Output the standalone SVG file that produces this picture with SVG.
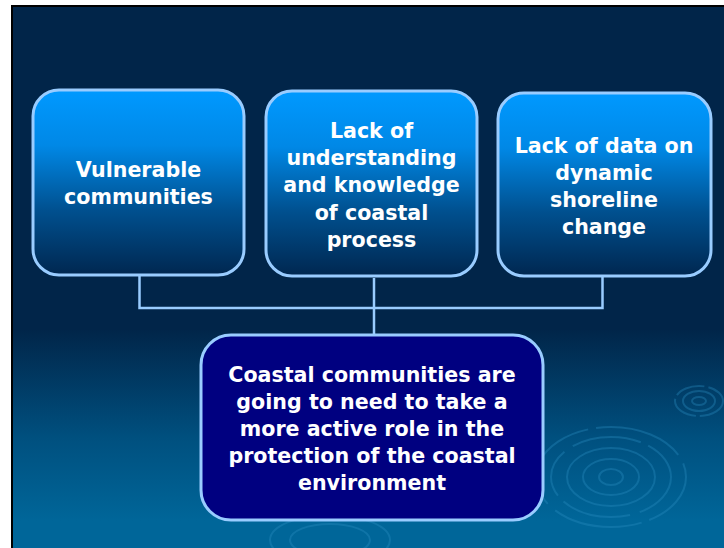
<svg xmlns="http://www.w3.org/2000/svg" width="724" height="548" viewBox="0 0 724 548">
  <defs>
    <linearGradient id="bg" x1="0" y1="0" x2="0" y2="548" gradientUnits="userSpaceOnUse">
      <stop offset="0" stop-color="#012549"/>
      <stop offset="0.6" stop-color="#012549"/>
      <stop offset="0.8" stop-color="#00507F"/>
      <stop offset="0.95" stop-color="#006699"/>
      <stop offset="1" stop-color="#006699"/>
    </linearGradient>
    <linearGradient id="boxfill" x1="0" y1="0" x2="0" y2="1">
      <stop offset="0" stop-color="#0099FF"/>
      <stop offset="0.3" stop-color="#0088E6"/>
      <stop offset="0.65" stop-color="#00508F"/>
      <stop offset="1" stop-color="#002750"/>
    </linearGradient>
    <style>
      .box { fill: url(#boxfill); stroke: #99CCFF; stroke-width: 3; }
      .main { fill: #000080; stroke: #99CCFF; stroke-width: 3; }
      .lbl { font-family: "DejaVu Sans", Verdana, sans-serif; font-weight: bold; font-size: 20.6px; fill: #FFFFFF; text-anchor: middle; }
      .conn { fill: none; stroke: #99CCFF; stroke-width: 2.5; }
      .rip { fill: none; stroke: #2A8FC4; stroke-opacity: 0.35; stroke-width: 2; }
    </style>
  </defs>

  <rect x="0" y="0" width="724" height="548" fill="#FFFFFF"/>
  <rect x="11" y="5" width="713" height="543" fill="#000000"/>
  <rect x="13" y="7" width="711" height="541" fill="url(#bg)"/>

  <g id="ripples">
    <ellipse class="rip" cx="611" cy="477" rx="75" ry="50" stroke-dasharray="60 8 90 10 40 6"/>
    <ellipse class="rip" cx="611" cy="477" rx="60" ry="40" stroke-dasharray="50 10 70 8"/>
    <ellipse class="rip" cx="611" cy="477" rx="44" ry="29"/>
    <ellipse class="rip" cx="611" cy="477" rx="28" ry="18"/>
    <ellipse class="rip" cx="611" cy="477" rx="12" ry="8" stroke-width="4"/>
    <ellipse class="rip" cx="699" cy="401" rx="24" ry="15" stroke-dasharray="30 4" stroke-opacity="0.5"/>
    <ellipse class="rip" cx="699" cy="401" rx="16" ry="10" stroke-opacity="0.5"/>
    <ellipse class="rip" cx="699" cy="401" rx="7" ry="4" stroke-width="3" stroke-opacity="0.5"/>
    <ellipse class="rip" cx="330" cy="540" rx="60" ry="25" stroke-opacity="0.15"/>
    <ellipse class="rip" cx="330" cy="540" rx="40" ry="16" stroke-opacity="0.15"/>
  </g>

  <g id="connectors">
    <polyline class="conn" points="139.5,275 139.5,308 602.5,308 602.5,276"/>
    <line class="conn" x1="374" y1="278" x2="374" y2="335"/>
  </g>

  <g id="node1">
    <rect class="box" x="33" y="90" width="211" height="185" rx="26"/>
    <text class="lbl" x="138.5" y="177">Vulnerable</text>
    <text class="lbl" x="138.5" y="204">communities</text>
  </g>

  <g id="node2">
    <rect class="box" x="266" y="91" width="211" height="185" rx="26"/>
    <text class="lbl" x="371.5" y="138">Lack of</text>
    <text class="lbl" x="371.5" y="165">understanding</text>
    <text class="lbl" x="371.5" y="192">and knowledge</text>
    <text class="lbl" x="371.5" y="220">of coastal</text>
    <text class="lbl" x="371.5" y="247">process</text>
  </g>

  <g id="node3">
    <rect class="box" x="498" y="93" width="213" height="183" rx="26"/>
    <text class="lbl" x="604" y="153">Lack of data on</text>
    <text class="lbl" x="604" y="180">dynamic</text>
    <text class="lbl" x="604" y="207">shoreline</text>
    <text class="lbl" x="604" y="234">change</text>
  </g>

  <g id="node4">
    <rect class="main" x="201" y="335" width="342" height="185" rx="30"/>
    <text class="lbl" x="372" y="382">Coastal communities are</text>
    <text class="lbl" x="372" y="409">going to need to take a</text>
    <text class="lbl" x="372" y="436">more active role in the</text>
    <text class="lbl" x="372" y="463">protection of the coastal</text>
    <text class="lbl" x="372" y="490">environment</text>
  </g>
</svg>
